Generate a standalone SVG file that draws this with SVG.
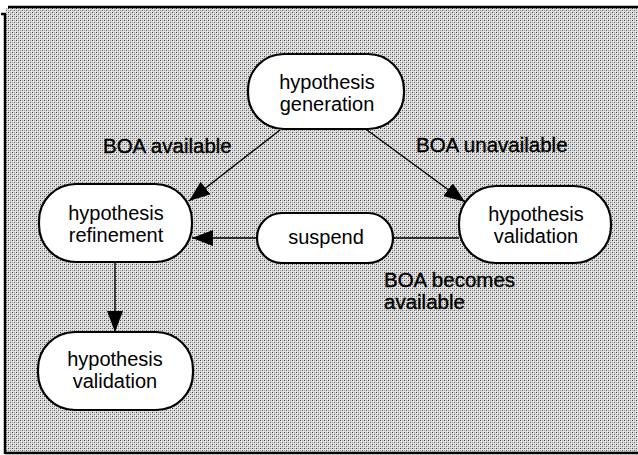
<svg xmlns="http://www.w3.org/2000/svg" width="638" height="455" viewBox="0 0 638 455">
  <defs>
    <!-- stippled halftone fill for the panel -->
    <pattern id="stipple" width="4" height="4" patternUnits="userSpaceOnUse">
      <rect width="4" height="4" fill="#dadada"/>
      <rect x="0" y="0" width="1" height="1" fill="#444"/>
      <rect x="2" y="2" width="1" height="1" fill="#666"/>
      <rect x="2" y="0" width="1" height="1" fill="#aaa"/>
      <rect x="0" y="2" width="1" height="1" fill="#aaa"/>
      <rect x="1" y="1" width="1" height="1" fill="#f4f4f4"/>
      <rect x="3" y="3" width="1" height="1" fill="#f4f4f4"/>
    </pattern>
    <marker id="arrow" markerUnits="userSpaceOnUse" markerWidth="24" markerHeight="18" refX="21" refY="8" orient="auto">
      <path d="M0,0 L21,8 L0,16 Z" fill="#000"/>
    </marker>
    <style>
      .node rect { fill: #fff; stroke: #000; stroke-width: 2.2; }
      .node text, .label { font-family: "Liberation Sans", Arial, sans-serif; font-size: 20px; fill: #000; text-anchor: middle; }
      .label { text-anchor: start; font-size: 20.5px; stroke: #000; stroke-width: 0.35; }
      .edge { stroke: #000; stroke-width: 1.4; fill: none; }
      .frame { stroke: #000; stroke-width: 2.5; fill: none; }
    </style>
  </defs>

  <!-- panel background and frame -->
  <rect x="0" y="0" width="638" height="455" fill="#fff"/>
  <rect x="6" y="8" width="632" height="445" fill="url(#stipple)"/>
  <g id="frame">
    <line class="frame" x1="8" y1="7" x2="638" y2="7"/>
    <line class="frame" x1="5" y1="14" x2="5" y2="454"/>
    <line class="frame" x1="1" y1="14" x2="6" y2="14"/>
    <line class="frame" x1="5" y1="453" x2="638" y2="453"/>
  </g>

  <!-- connectors -->
  <g id="connectors">
    <line class="edge" x1="280" y1="130" x2="189" y2="201" marker-end="url(#arrow)"/>
    <line class="edge" x1="367" y1="130" x2="465" y2="202" marker-end="url(#arrow)"/>
    <line class="edge" x1="257" y1="238" x2="192" y2="238" marker-end="url(#arrow)"/>
    <line class="edge" x1="393" y1="238" x2="459" y2="238"/>
    <line class="edge" x1="115" y1="262" x2="115" y2="332" marker-end="url(#arrow)"/>
  </g>

  <!-- edge labels -->
  <g id="labels">
    <text class="label" x="103" y="153">BOA available</text>
    <text class="label" x="416" y="152">BOA unavailable</text>
    <text class="label" x="384" y="287">BOA becomes</text>
    <text class="label" x="384" y="309">available</text>
  </g>

  <!-- nodes -->
  <g id="node-generation" class="node">
    <rect x="248" y="54" width="156" height="75" rx="36" ry="36"/>
    <text x="327" y="89">hypothesis</text>
    <text x="327" y="111">generation</text>
  </g>
  <g id="node-refinement" class="node">
    <rect x="39" y="184" width="153" height="78" rx="37" ry="37"/>
    <text x="116" y="220">hypothesis</text>
    <text x="116" y="242">refinement</text>
  </g>
  <g id="node-suspend" class="node">
    <rect x="257" y="213" width="136" height="50" rx="25" ry="25"/>
    <text x="326" y="244">suspend</text>
  </g>
  <g id="node-validation-right" class="node">
    <rect x="459" y="186" width="152" height="77" rx="37" ry="37"/>
    <text x="536" y="221">hypothesis</text>
    <text x="536" y="243">validation</text>
  </g>
  <g id="node-validation-bottom" class="node">
    <rect x="38" y="332" width="155" height="78" rx="37" ry="37"/>
    <text x="115" y="366">hypothesis</text>
    <text x="115" y="388">validation</text>
  </g>
</svg>
